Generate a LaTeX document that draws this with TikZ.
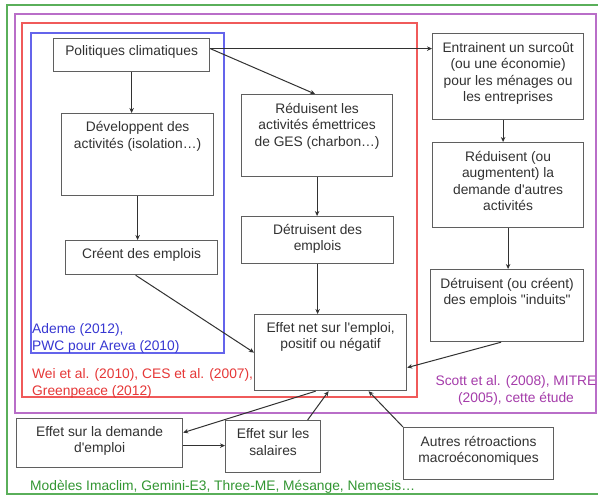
\documentclass[tikz,border=0pt]{standalone}
\usepackage{fontspec}
\setmainfont{Liberation Sans}[Ligatures=TeXOff]
\usetikzlibrary{arrows.meta}
\definecolor{framegreen}{RGB}{90,175,90}
\definecolor{framepurple}{RGB}{185,110,200}
\definecolor{framered}{RGB}{240,90,90}
\definecolor{frameblue}{RGB}{100,100,235}
\definecolor{txtgreen}{RGB}{50,150,50}
\definecolor{txtpurple}{RGB}{165,60,170}
\definecolor{txtred}{RGB}{230,55,55}
\definecolor{txtblue}{RGB}{55,55,210}
\definecolor{boxgray}{RGB}{95,95,95}
\definecolor{txtdark}{RGB}{50,50,50}
\tikzset{
  every node/.style={font=\fontsize{13.8}{16.5}\selectfont},
  stepbox/.style={draw=boxgray, line width=1.2pt, fill=white, inner sep=0pt, anchor=north west},
  boxtext/.style={anchor=base, align=center, text=txtdark, inner sep=0pt},
  conn/.style={draw=txtdark, line width=1pt, -{Stealth[length=5pt,width=4.5pt]}},
  frame/.style={line width=1.5pt},
  cite/.style={inner sep=0pt, align=left, anchor=base west},
}
\begin{document}
\begin{tikzpicture}[x=1pt,y=-1pt]
\fill[white] (0,0) rectangle (598,496);
\useasboundingbox (0,0) rectangle (598,496);
% frames
\draw[frame, framegreen] (600,5) -- (7,5) -- (7,494) -- (600,494);
\draw[frame, framepurple] (15,14) rectangle (596,413);
\draw[frame, framered] (22,23) rectangle (417,397);
\draw[frame, frameblue] (31,33) rectangle (224,353);
% boxes
\node[stepbox, minimum width=156pt, minimum height=33pt] (pol) at (53,38) {};
\node[stepbox, minimum width=152pt, minimum height=82pt] (dev) at (61,113) {};
\node[stepbox, minimum width=152pt, minimum height=34pt] (cre) at (65,240) {};
\node[stepbox, minimum width=151pt, minimum height=82pt] (red) at (241,94) {};
\node[stepbox, minimum width=152pt, minimum height=47pt] (det) at (241,216) {};
\node[stepbox, minimum width=152pt, minimum height=76pt] (net) at (254,314) {};
\node[stepbox, minimum width=151pt, minimum height=86pt] (ent) at (432,33) {};
\node[stepbox, minimum width=151pt, minimum height=85pt] (rau) at (432,142) {};
\node[stepbox, minimum width=153pt, minimum height=72pt] (dou) at (430,269) {};
\node[stepbox, minimum width=166pt, minimum height=49pt] (dem) at (16,418) {};
\node[stepbox, minimum width=95pt, minimum height=52pt] (sal) at (225,420) {};
\node[stepbox, minimum width=150pt, minimum height=52pt] (aut) at (403,427) {};
% box texts (base anchor = baseline of last line)
\node[boxtext] (polt) at ([yshift=-17pt]pol.north) {Politiques climatiques};
\node[boxtext] (devt) at ([yshift=-35pt]dev.north) {Développent des\\activités (isolation…)};
\node[boxtext] (cret) at ([yshift=-18pt]cre.north) {Créent des emplois};
\node[boxtext] (redt) at ([yshift=-52pt]red.north) {Réduisent les\\activités émettrices\\de GES (charbon…)};
\node[boxtext] (dett) at ([yshift=-34.5pt]det.north) {Détruisent des\\emplois};
\node[boxtext] (nett) at ([yshift=-34.5pt]net.north) {Effet net sur l'emploi,\\positif ou négatif};
\node[boxtext] (entt) at ([yshift=-68.5pt]ent.north) {Entrainent un surcoût\\(ou une économie)\\pour les ménages ou\\les entreprises};
\node[boxtext] (raut) at ([yshift=-68.5pt]rau.north) {Réduisent (ou\\augmentent) la\\demande d'autres\\activités};
\node[boxtext] (dout) at ([yshift=-35.5pt]dou.north) {Détruisent (ou créent)\\des emplois "induits"};
\node[boxtext] (demt) at ([yshift=-34.5pt]dem.north) {Effet sur la demande\\d'emploi};
\node[boxtext] (salt) at ([yshift=-35pt]sal.north) {Effet sur les\\salaires};
\node[boxtext] (autt) at ([yshift=-35.5pt]aut.north) {Autres rétroactions\\macroéconomiques};
% citations
\node[cite, text=txtblue] (cblue) at (32,350) {Ademe (2012),\\PWC pour Areva (2010)};
\node[cite, text=txtred] (cred) at (32,395) {Wei et al. (2010), CES et al. (2007),\\Greenpeace (2012)};
\node[anchor=base, align=center, inner sep=0pt, text=txtpurple] (cpurple) at (516,402) {Scott et al. (2008), MITRE\\(2005), cette étude};
\node[cite, text=txtgreen] (cgreen) at (30,490) {Modèles Imaclim, Gemini-E3, Three-ME, Mésange, Nemesis…};
% connectors
\draw[conn] ([yshift=6.5pt]pol.east) -- ([yshift=6.5pt]pol.east -| ent.west);
\draw[conn] ([yshift=6.5pt]pol.east) -- ([xshift=-2pt]red.north);
\draw[conn] (pol.south) -- (pol.south |- dev.north);
\draw[conn] (dev.south) -- (dev.south |- cre.north);
\draw[conn] (red.south) -- (red.south |- det.north);
\draw[conn] (det.south) -- (det.south |- net.north);
\draw[conn] ([xshift=-6pt]cre.south) -- (net.west);
\draw[conn] ([xshift=-5pt]ent.south) -- ([xshift=-5pt]ent.south |- rau.north);
\draw[conn] (rau.south) -- (rau.south |- dou.north);
\draw[conn] ([xshift=-6pt]dou.south) -- ([yshift=-15pt]net.east);
\draw[conn] ([xshift=-15pt]net.south) -- ([yshift=10.5pt]dem.east);
\draw[conn] ([yshift=-2.5pt]dem.east) -- ([yshift=-2.5pt]dem.east -| sal.west);
\draw[conn] ([xshift=34.5pt]sal.north) -- ([xshift=-2pt]net.south);
\draw[conn] (aut.north west) -- ([xshift=38pt]net.south);
\end{tikzpicture}
\end{document}
